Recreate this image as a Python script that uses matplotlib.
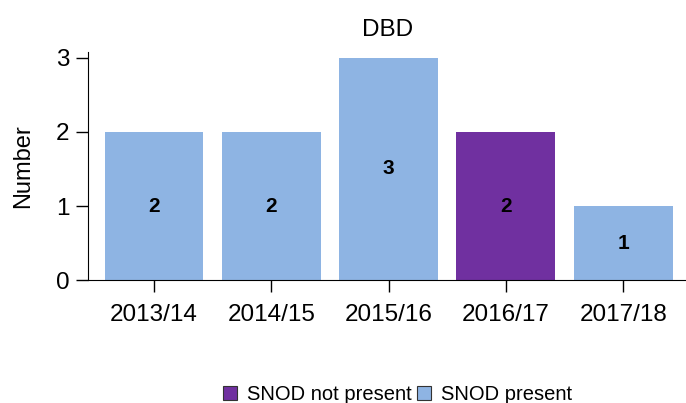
import matplotlib
matplotlib.use("Agg")
import matplotlib.pyplot as plt
from matplotlib.patches import Patch

plt.rcParams['font.family'] = ['Liberation Sans', 'DejaVu Sans']

categories = ["2013/14", "2014/15", "2015/16", "2016/17", "2017/18"]
values = [2, 2, 3, 2, 1]
snod = ["present", "present", "present", "not present", "present"]
colors_map = {"present": "#8EB4E3", "not present": "#7030A0"}

fig = plt.figure(figsize=(6.86, 4.03), dpi=100)
ax = fig.add_axes([0.129, 0.305, 0.871, 0.566])

x = list(range(len(categories)))
bars = ax.bar(x, values, width=0.843, color=[colors_map[s] for s in snod])
for xi, v in zip(x, values):
    ax.text(xi, v / 2, str(v), ha='center', va='center', fontsize=15, fontweight='bold', color='black')

ax.set_xlim(-0.558, 4.536)
ax.set_ylim(0, 3.08)
ax.set_yticks([0, 1, 2, 3])
ax.set_xticks(x)
ax.set_xticklabels(categories)
ax.tick_params(axis='both', labelsize=17.5, length=8.5, width=1, color='black')
ax.tick_params(axis='x', pad=9)
ax.tick_params(axis='y', pad=5)
ax.spines['top'].set_visible(False)
ax.spines['right'].set_visible(False)
ax.set_ylabel("Number", fontsize=17, labelpad=16)
ax.set_title("DBD", fontsize=17.5, pad=11.5)

handles = [Patch(facecolor=colors_map["not present"], edgecolor='#333333', linewidth=0.8, label="SNOD not present"),
           Patch(facecolor=colors_map["present"], edgecolor='#333333', linewidth=0.8, label="SNOD present")]
fig.legend(handles=handles, loc='center', bbox_to_anchor=(0.58, 0.02), ncol=2, frameon=False,
           fontsize=14.5, handlelength=0.7, handleheight=0.7, handletextpad=0.5, columnspacing=0.25,
           borderpad=0, borderaxespad=0)

fig.savefig("out.png", dpi=100)
